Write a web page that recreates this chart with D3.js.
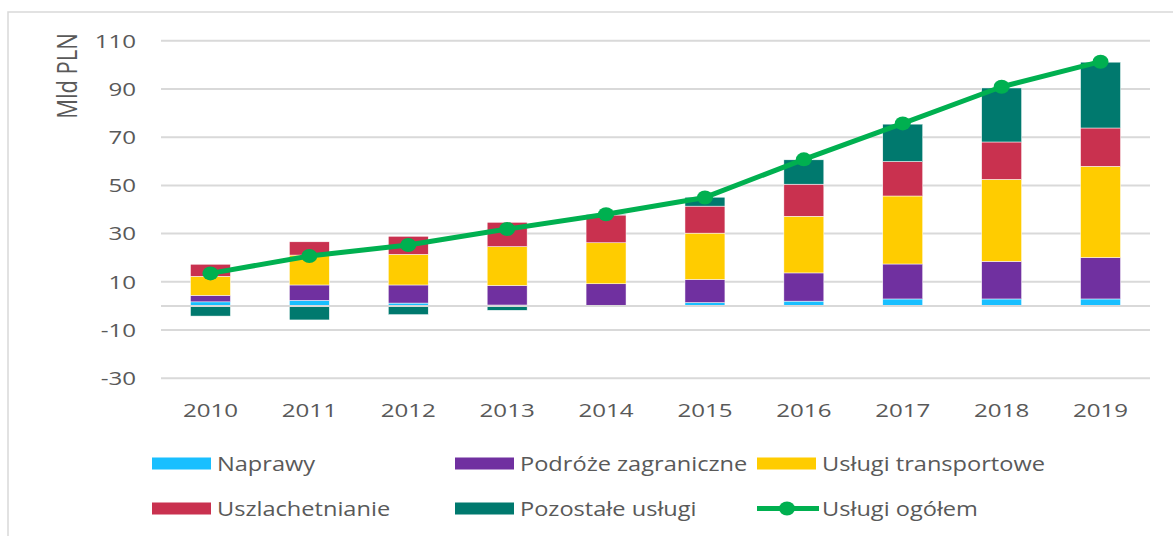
<!DOCTYPE html>
<html>
<head>
<meta charset="utf-8">
<script src="https://cdn.jsdelivr.net/npm/d3@7"></script>
<style>
  html, body { margin: 0; padding: 0; background: #fff; }
  svg { display: block; }
  text { font-family: "Open Sans", "Liberation Sans", sans-serif; fill: #595959; }
</style>
</head>
<body>
<svg id="chart" width="1173" height="536"></svg>
<script>
// ---- Data (Mld PLN) ----
const years = ["2010","2011","2012","2013","2014","2015","2016","2017","2018","2019"];
const naprawy   = [1.7, 2.3, 1.2, 0.4, 0.3, 1.4, 2.0, 2.9, 2.9, 2.9];
const podroze   = [2.7, 6.4, 7.5, 8.1, 8.9, 9.6, 11.7, 14.5, 15.6, 17.2];
const transport = [7.9, 12.4, 12.7, 16.1, 17.0, 19.2, 23.5, 28.2, 34.0, 37.8];
const uszlach   = [5.0, 5.5, 7.5, 10.1, 11.5, 11.2, 13.3, 14.3, 15.5, 15.9];
const pozostale = [-4.2, -5.8, -3.6, -1.8, 0.3, 3.7, 10.1, 15.5, 22.4, 27.3];
const ogolem    = [13.5, 20.7, 25.3, 31.9, 38.0, 45.0, 60.8, 75.7, 90.9, 101.3];
const yTicks    = [110, 90, 70, 50, 30, 10, -10, -30];
const seriesNames = ["Naprawy", "Podróże zagraniczne", "Usługi transportowe", "Uszlachetnianie", "Pozostałe usługi"];
const lineName = "Usługi ogółem";
const axisTitle = "Mld PLN";

const colors = ["#19BFFF", "#7030A0", "#FFCC00", "#C9314F", "#00796E"];
const lineColor = "#00B050";

const keys = ["n", "p", "t", "u", "o"];
const rows = years.map((y, i) => ({
  year: y, n: naprawy[i], p: podroze[i], t: transport[i], u: uszlach[i], o: pozostale[i], total: ogolem[i]
}));

const svg = d3.select("#chart");

// frame
svg.append("rect").attr("x", 8).attr("y", 12).attr("width", 1180).attr("height", 540)
  .attr("fill", "none").attr("stroke", "#D9D9D9").attr("stroke-width", 1.5);

const x = d3.scaleBand().domain(years).range([161, 1150]).paddingInner(0.596).paddingOuter(0.298);
const y = d3.scaleLinear().domain([-30, 110]).range([378.3, 40.7]);

const SX = 1.27; // horizontal stretch of text, as in reference

// gridlines
svg.append("g").selectAll("line").data(yTicks).join("line")
  .attr("x1", 161).attr("x2", 1150)
  .attr("y1", d => y(d)).attr("y2", d => y(d))
  .attr("stroke", "#D9D9D9").attr("stroke-width", 2);

// y tick labels
svg.append("g").selectAll("text").data(yTicks).join("text")
  .attr("transform", d => `translate(136,${y(d)}) scale(${SX},1)`)
  .attr("text-anchor", "end").attr("dy", "0.36em")
  .style("font-size", "19px")
  .text(d => d);

// axis title
svg.append("text")
  .attr("transform", `translate(67,76) scale(${SX},1) rotate(-90)`)
  .attr("text-anchor", "middle").attr("dy", "0.36em")
  .style("font-size", "22px")
  .text(axisTitle);

// stacked bars
const stack = d3.stack().keys(keys).offset(d3.stackOffsetDiverging);
const stacked = stack(rows);
svg.append("g").selectAll("g").data(stacked).join("g")
  .attr("fill", (d, i) => colors[i])
  .selectAll("rect").data(d => d).join("rect")
  .attr("x", d => x(d.data.year))
  .attr("width", x.bandwidth())
  .attr("y", d => y(Math.max(d[0], d[1])))
  .attr("height", d => Math.abs(y(d[0]) - y(d[1])))
  .attr("stroke", "#fff").attr("stroke-width", 0.5);

// zero axis line
svg.append("line")
  .attr("x1", 161).attr("x2", 1150).attr("y1", y(0)).attr("y2", y(0))
  .attr("stroke", "#D9D9D9").attr("stroke-width", 2);

// x labels
svg.append("g").selectAll("text").data(years).join("text")
  .attr("transform", d => `translate(${x(d) + x.bandwidth() / 2},417) scale(${SX},1)`)
  .attr("text-anchor", "middle")
  .style("font-size", "19px")
  .text(d => d);

// total line
const line = d3.line().x(d => x(d.year) + x.bandwidth() / 2).y(d => y(d.total));
svg.append("path").datum(rows).attr("d", line)
  .attr("fill", "none").attr("stroke", lineColor).attr("stroke-width", 5)
  .attr("stroke-linejoin", "round");
svg.append("g").selectAll("ellipse").data(rows).join("ellipse")
  .attr("cx", d => x(d.year) + x.bandwidth() / 2).attr("cy", d => y(d.total))
  .attr("rx", 8).attr("ry", 7).attr("fill", lineColor);

// legend
const legendItems = [
  { name: seriesNames[0], color: colors[0], col: 0, row: 0 },
  { name: seriesNames[1], color: colors[1], col: 1, row: 0 },
  { name: seriesNames[2], color: colors[2], col: 2, row: 0 },
  { name: seriesNames[3], color: colors[3], col: 0, row: 1 },
  { name: seriesNames[4], color: colors[4], col: 1, row: 1 },
  { name: lineName, color: lineColor, col: 2, row: 1, line: true }
];
const colX = [152, 455, 757];
const rowY = [463.5, 508.5];
const lg = svg.append("g").selectAll("g").data(legendItems).join("g")
  .attr("transform", d => `translate(${colX[d.col]},${rowY[d.row]})`);
lg.filter(d => !d.line).append("rect")
  .attr("x", 0).attr("y", -6).attr("width", 59).attr("height", 12)
  .attr("fill", d => d.color);
const ll = lg.filter(d => d.line);
ll.append("line").attr("x1", 0).attr("x2", 62).attr("y1", 0).attr("y2", 0)
  .attr("stroke", lineColor).attr("stroke-width", 5);
ll.append("ellipse").attr("cx", 30).attr("cy", 0).attr("rx", 8).attr("ry", 7).attr("fill", lineColor);
lg.append("text")
  .attr("transform", `translate(65,0) scale(1.18,1)`)
  .attr("dy", "0.36em")
  .style("font-size", "20px")
  .text(d => d.name);
</script>
</body>
</html>
